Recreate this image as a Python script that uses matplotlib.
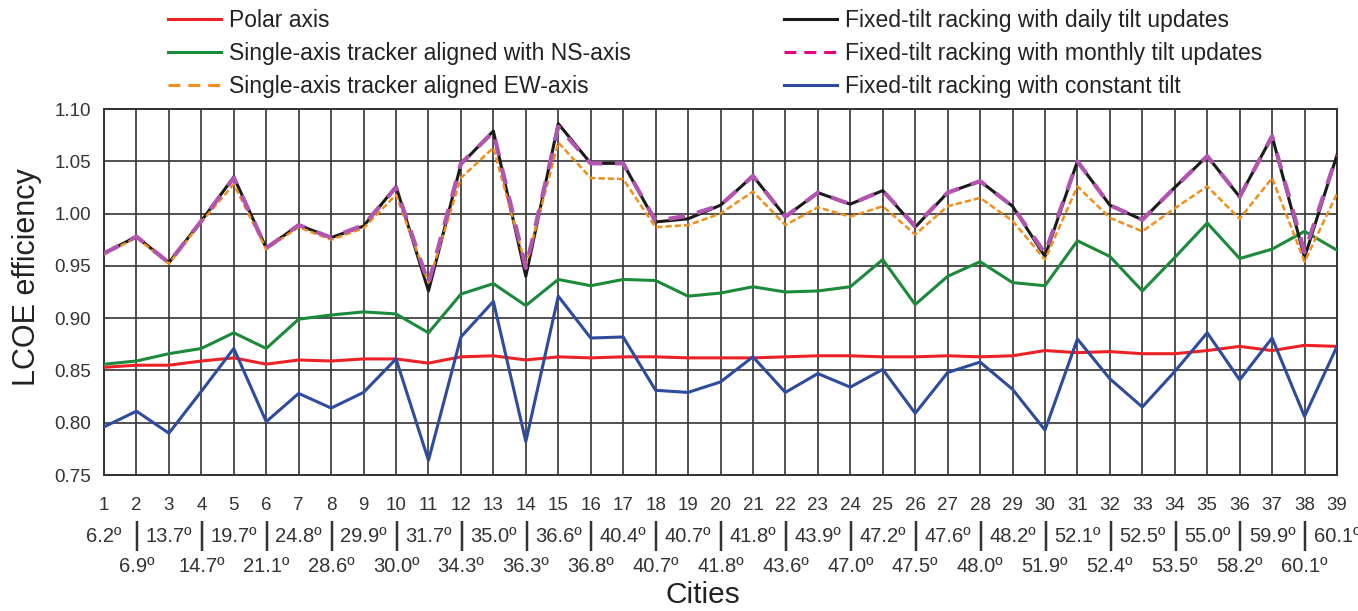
import matplotlib
matplotlib.use('Agg')
import matplotlib.pyplot as plt
from matplotlib.lines import Line2D
import matplotlib.transforms as mtransforms

plt.rcParams['font.family'] = ['Liberation Sans', 'DejaVu Sans']

# Data
cities = list(range(1, 40))
lat_odd = ['6.2º', '13.7º', '19.7º', '24.8º', '29.9º', '31.7º', '35.0º', '36.6º', '40.4º', '40.7º',
           '41.8º', '43.9º', '47.2º', '47.6º', '48.2º', '52.1º', '52.5º', '55.0º', '59.9º', '60.1º']
lat_even = ['6.9º', '14.7º', '21.1º', '28.6º', '30.0º', '34.3º', '36.3º', '36.8º', '40.7º', '41.8º',
            '43.6º', '47.0º', '47.5º', '48.0º', '51.9º', '52.4º', '53.5º', '58.2º', '60.1º']

polar = [0.853, 0.855, 0.855, 0.859, 0.862, 0.856, 0.860, 0.859, 0.861, 0.861,
         0.857, 0.863, 0.864, 0.860, 0.863, 0.862, 0.863, 0.863, 0.862, 0.862,
         0.862, 0.863, 0.864, 0.864, 0.863, 0.863, 0.864, 0.863, 0.864, 0.869,
         0.867, 0.868, 0.866, 0.866, 0.869, 0.873, 0.869, 0.874, 0.873]
ns_axis = [0.856, 0.859, 0.866, 0.871, 0.886, 0.871, 0.899, 0.903, 0.906, 0.904,
           0.886, 0.923, 0.933, 0.912, 0.937, 0.931, 0.937, 0.936, 0.921, 0.924,
           0.930, 0.925, 0.926, 0.930, 0.956, 0.913, 0.940, 0.954, 0.934, 0.931,
           0.974, 0.959, 0.926, 0.958, 0.991, 0.957, 0.966, 0.983, 0.965]
ew_axis = [0.961, 0.977, 0.952, 0.992, 1.028, 0.966, 0.987, 0.975, 0.986, 1.018,
           0.934, 1.034, 1.063, 0.950, 1.068, 1.034, 1.033, 0.987, 0.989, 1.000,
           1.021, 0.989, 1.006, 0.997, 1.007, 0.980, 1.007, 1.015, 0.993, 0.956,
           1.026, 0.996, 0.983, 1.005, 1.026, 0.995, 1.034, 0.954, 1.019]
daily = [0.962, 0.978, 0.953, 0.993, 1.035, 0.967, 0.989, 0.977, 0.988, 1.026,
         0.926, 1.047, 1.079, 0.940, 1.086, 1.048, 1.048, 0.992, 0.995, 1.008,
         1.036, 0.997, 1.020, 1.009, 1.022, 0.987, 1.020, 1.031, 1.007, 0.959,
         1.050, 1.008, 0.994, 1.025, 1.055, 1.016, 1.074, 0.958, 1.056]
monthly = [0.962, 0.978, 0.953, 0.993, 1.034, 0.967, 0.989, 0.977, 0.989, 1.025,
           0.933, 1.048, 1.078, 0.948, 1.083, 1.048, 1.048, 0.993, 0.998, 1.008,
           1.036, 0.997, 1.020, 1.009, 1.022, 0.988, 1.020, 1.031, 1.007, 0.962,
           1.050, 1.008, 0.994, 1.025, 1.055, 1.016, 1.074, 0.963, 1.056]
constant = [0.796, 0.811, 0.790, 0.830, 0.871, 0.801, 0.828, 0.814, 0.829, 0.861,
            0.764, 0.882, 0.916, 0.782, 0.921, 0.881, 0.882, 0.831, 0.829, 0.839,
            0.863, 0.829, 0.847, 0.834, 0.851, 0.809, 0.848, 0.858, 0.832, 0.793,
            0.880, 0.842, 0.815, 0.849, 0.886, 0.841, 0.881, 0.806, 0.873]

c_red = '#ec2227'
c_green = '#1b8a3b'
c_orange = '#f18e1c'
c_black = '#1a1a1a'
c_purple = '#b255b0'
c_pink = '#e6007e'
c_blue = '#2e4b9f'
c_text = '#333333'

fig = plt.figure(figsize=(13.58, 6.11), dpi=100)
ax = fig.add_axes([104/1358, 1 - 475/611, (1337 - 104)/1358, (475 - 109)/611])

ax.plot(cities, polar, color=c_red, lw=2.2, zorder=3)
ax.plot(cities, ns_axis, color=c_green, lw=2.2, zorder=3)
ax.plot(cities, constant, color=c_blue, lw=2.2, zorder=3)
ax.plot(cities, daily, color=c_black, lw=2.2, zorder=4)
ax.plot(cities, ew_axis, color=c_orange, lw=1.8, ls=(0, (2.5, 1.2)), zorder=4)
ax.plot(cities, monthly, color=c_purple, lw=3.0, ls=(0, (4, 3)), zorder=5)

ax.set_xlim(1, 39)
ax.set_ylim(0.75, 1.10)
ax.set_xticks(cities)
ax.set_xticklabels([str(c) for c in cities])
ax.set_yticks([0.75 + 0.05*i for i in range(8)])
ax.set_yticklabels(['%.2f' % (0.75 + 0.05*i) for i in range(8)])
ax.tick_params(length=0, labelsize=13.5, colors=c_text)
ax.tick_params(axis='x', pad=16)
ax.tick_params(axis='y', pad=9.5)
ax.grid(True, color='#333333', lw=1.2)
for s in ax.spines.values():
    s.set_color('#333333')
    s.set_linewidth(1.4)

# latitude rows under the city numbers
trans = mtransforms.blended_transform_factory(ax.transData, ax.transAxes)
for i, lab in enumerate(lat_odd):
    ax.text(cities[2*i], -0.168, lab, transform=trans, ha='center', va='center',
            fontsize=14.5, color=c_text)
for i, lab in enumerate(lat_even):
    ax.text(cities[2*i + 1], -0.166, '|', transform=trans, ha='center', va='center',
            fontsize=22, color=c_text)
    ax.text(cities[2*i + 1], -0.251, lab, transform=trans, ha='center', va='center',
            fontsize=14.5, color=c_text)

ax.set_ylabel('LCOE efficiency', fontsize=22, color='#222222')
ax.yaxis.set_label_coords(-0.050, 0.54)
fig.text(703/1358, 0.026, 'Cities', fontsize=21.5, color='#222222', ha='center', va='center')

# legend
handles = [Line2D([], [], color=c_red, lw=2.2),
           Line2D([], [], color=c_green, lw=2.2),
           Line2D([], [], color=c_orange, lw=2.2, ls=(0, (3.9, 2.6))),
           Line2D([], [], color=c_black, lw=2.2),
           Line2D([], [], color=c_pink, lw=2.2, ls=(0, (3.9, 2.6))),
           Line2D([], [], color=c_blue, lw=2.2)]
labels = ['Polar axis', 'Single-axis tracker aligned with NS-axis',
          'Single-axis tracker aligned EW-axis',
          'Fixed-tilt racking with daily tilt updates',
          'Fixed-tilt racking with monthly tilt updates',
          'Fixed-tilt racking with constant tilt']
fig.legend(handles, labels, ncol=2, loc='upper left', bbox_to_anchor=(0.112, 1.012),
           frameon=False, fontsize=16.5, handlelength=2.3, handletextpad=0.35,
           columnspacing=6.68, labelspacing=0.45, borderpad=0.2, labelcolor='#222222')

fig.savefig('out.png', dpi=100)
